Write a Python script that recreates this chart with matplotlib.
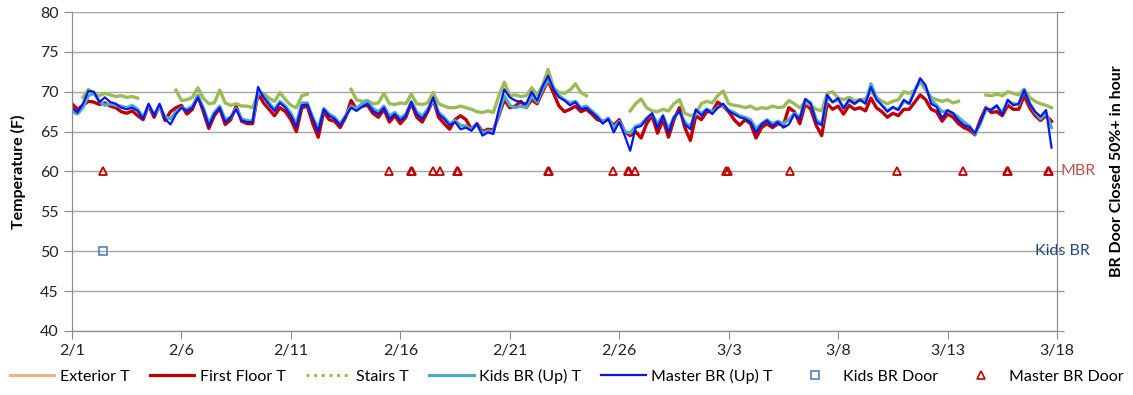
import numpy as np
import pandas as pd
import matplotlib
matplotlib.use("Agg")
import matplotlib.pyplot as plt
from matplotlib.lines import Line2D

nan = np.nan

# values every 6 hours starting 2/1 00:00
first_floor_t = [
    68.5, 67.8, 68.3, 68.8, 68.7, 68.4, 68.6, 68.2,
    68.0, 67.5, 67.3, 67.6, 67.0, 66.5, 68.3, 66.8,
    68.3, 66.4, 67.5, 68.0, 68.3, 67.2, 67.8, 69.5,
    67.5, 65.4, 67.0, 67.9, 65.9, 66.5, 68.2, 66.3,
    66.0, 66.0, 69.8, 68.6, 67.8, 67.0, 68.0, 67.5,
    66.5, 65.0, 68.0, 68.2, 66.0, 64.3, 67.5, 66.5,
    66.3, 65.5, 66.8, 68.9, 67.8, 68.2, 68.3, 67.3,
    66.8, 67.8, 66.2, 67.0, 66.0, 66.8, 68.6, 66.8,
    66.2, 67.5, 69.0, 66.8, 66.0, 65.3, 66.5, 67.0,
    66.5, 65.3, 66.0, 65.0, 65.3, 65.2, 67.0, 69.0,
    68.0, 68.2, 68.8, 68.0, 69.0, 68.5, 70.0, 71.4,
    69.8, 68.2, 67.5, 67.8, 68.2, 67.5, 67.8, 67.2,
    66.5, 66.3, 66.5, 65.8, 66.5, 65.0, 64.5, 65.0,
    64.2, 66.0, 67.0, 64.8, 66.5, 64.3, 66.5, 68.0,
    65.5, 63.9, 67.0, 66.5, 67.5, 67.5, 68.7, 68.2,
    67.5, 66.5, 65.8, 66.5, 66.0, 64.2, 65.5, 66.0,
    65.5, 66.0, 65.8, 68.0, 67.5, 66.0, 68.5, 67.8,
    65.8, 64.5, 68.5, 67.8, 68.2, 67.2, 68.3, 67.8,
    68.0, 67.6, 69.2, 68.0, 67.5, 66.8, 67.3, 67.0,
    67.8, 67.8, 68.7, 69.6, 69.0, 67.8, 67.5, 66.3,
    67.2, 66.8, 66.0, 65.5, 65.2, 64.6, 66.5, 68.0,
    67.4, 67.5, 67.0, 68.3, 67.8, 67.8, 69.5, 68.0,
    67.0, 66.4, 67.0, 66.3,
]

stairs_t = [
    nan, nan, 69.3, 70.3, 69.8, 69.5, 69.8, 69.6,
    69.4, 69.5, 69.3, 69.4, 69.2, nan, nan, nan,
    nan, nan, nan, 70.2, 68.9, 69.0, 69.3, 70.5,
    69.2, 68.5, 68.6, 70.2, 68.6, 68.3, 68.5, 68.2,
    68.2, 68.0, 69.8, 69.8, 69.2, 68.8, 69.9, 69.0,
    68.3, 68.0, 69.5, 69.7, nan, nan, nan, nan,
    nan, nan, nan, 70.3, 69.0, 68.8, 68.9, 68.5,
    68.6, 69.8, 68.5, 68.4, 68.6, 68.5, 69.7, 68.5,
    68.4, 68.6, 69.9, 68.5, 68.2, 68.0, 68.0, 68.2,
    68.0, 67.8, 67.5, 67.4, 67.6, 67.4, 69.5, 71.2,
    69.5, 69.6, 69.4, 69.5, 70.5, 69.6, 70.8, 72.8,
    70.5, 69.9, 69.8, 70.2, 71.0, 69.9, 69.5, nan,
    nan, nan, nan, nan, nan, nan, 67.6, 68.5,
    69.1, 68.0, 67.6, 67.5, 67.8, 67.6, 68.5, 69.0,
    67.3, 67.0, 67.2, 68.5, 68.8, 68.6, 69.5, 70.1,
    68.5, 68.3, 68.2, 68.0, 68.2, 67.8, 68.0, 67.9,
    68.2, 68.0, 68.1, 68.9, 68.5, 68.0, 68.7, 68.3,
    67.8, 67.6, 69.8, 70.0, 69.2, 69.0, 69.3, 68.9,
    69.0, 69.1, 70.0, 69.3, 68.8, 68.5, 68.8, 69.0,
    70.0, 69.8, 70.2, 71.2, 70.2, 69.3, 69.0, 68.8,
    69.0, 68.6, 68.8, nan, nan, nan, nan, 69.6,
    69.5, 69.7, 69.5, 70.0, 69.8, 69.6, 70.3, 69.3,
    68.8, 68.5, 68.3, 68.0,
]

kids_br_t = [
    67.5, 67.2, 68.0, 69.5, 69.8, 68.8, 68.3, 68.5,
    68.3, 68.2, 68.0, 68.3, 67.8, 66.8, 68.3, 67.2,
    68.0, 66.9, 66.6, 67.5, 68.0, 67.8, 68.2, 69.5,
    68.0, 66.0, 67.4, 68.2, 66.5, 66.8, 67.9, 66.6,
    66.4, 66.3, 70.0, 69.5, 68.6, 67.8, 68.8, 68.2,
    67.3, 66.0, 68.6, 68.6, 66.8, 65.4, 67.9, 67.2,
    66.8, 66.0, 67.0, 68.2, 67.9, 68.5, 68.8, 67.9,
    67.5, 68.2, 67.0, 67.4, 66.7, 67.2, 68.8, 67.5,
    66.9, 67.8, 69.0, 67.4, 66.8, 66.0, 66.4, 65.8,
    65.7, 65.3, 65.9, 64.8, 65.1, 65.0, 67.2, 69.5,
    68.3, 68.0, 68.2, 68.0, 69.5, 68.7, 70.3, 71.5,
    70.5, 69.5, 69.0, 68.6, 68.8, 68.0, 68.2, 67.6,
    67.0, 66.2, 66.7, 65.5, 66.3, 65.0, 64.8, 65.7,
    65.9, 66.7, 67.2, 66.0, 67.0, 65.3, 66.8, 67.5,
    66.2, 65.6, 67.6, 67.3, 67.8, 67.5, 68.0, 68.3,
    67.7, 67.4, 67.0, 66.8, 66.5, 65.4, 66.0, 66.5,
    66.0, 66.3, 66.0, 66.5, 67.3, 66.8, 69.0, 68.6,
    66.5, 65.9, 69.3, 68.7, 69.0, 68.0, 68.9, 68.5,
    69.0, 68.6, 71.0, 69.3, 68.3, 67.6, 68.0, 67.8,
    68.8, 68.5, 70.2, 71.5, 70.5, 69.0, 68.3, 67.5,
    67.6, 67.3, 66.8, 66.2, 65.7, 64.7, 66.0, 67.8,
    67.8, 68.2, 67.4, 68.8, 68.5, 68.4, 70.3, 68.6,
    67.4, 66.6, 67.3, 65.5,
]

master_br_t = [
    68.0, 67.4, 68.5, 70.1, 70.0, 68.7, 69.3, 68.7,
    68.5, 68.0, 67.8, 68.0, 67.6, 66.6, 68.5, 67.0,
    68.5, 66.6, 65.9, 67.2, 68.0, 67.6, 68.0, 69.3,
    67.8, 65.7, 67.2, 68.0, 66.2, 66.8, 67.8, 66.4,
    66.2, 66.2, 70.6, 69.3, 68.4, 67.6, 68.6, 68.0,
    67.0, 65.6, 68.3, 68.4, 66.6, 65.0, 67.8, 67.0,
    66.6, 65.8, 66.9, 68.0, 67.6, 68.1, 68.5, 67.6,
    67.2, 68.0, 66.6, 67.2, 66.4, 67.0, 68.7, 67.2,
    66.6, 67.6, 69.3, 67.2, 66.6, 65.8, 66.2, 65.3,
    65.5, 65.1, 66.0, 64.5, 64.9, 64.7, 67.8, 70.3,
    69.3, 68.9, 68.7, 68.5, 70.0, 68.9, 70.7, 72.0,
    70.3, 69.3, 68.9, 68.3, 68.7, 67.8, 68.0, 67.4,
    66.8, 66.0, 66.6, 64.9, 66.2, 64.5, 62.6, 65.5,
    65.7, 66.6, 67.3, 65.5, 67.0, 64.9, 66.8, 67.6,
    65.9, 65.3, 67.8, 67.0, 67.8, 67.2, 68.0, 68.5,
    67.6, 67.2, 66.8, 66.6, 66.2, 64.9, 65.9, 66.4,
    65.7, 66.2, 65.5, 65.9, 67.2, 66.6, 69.1, 68.5,
    66.2, 65.8, 69.6, 68.7, 69.2, 67.9, 69.0, 68.5,
    69.0, 68.5, 70.6, 69.0, 68.3, 67.5, 68.1, 67.7,
    69.0, 68.5, 70.0, 71.7, 70.8, 68.5, 68.1, 66.7,
    67.7, 67.3, 66.4, 65.8, 65.6, 64.8, 66.2, 67.9,
    67.7, 68.3, 67.1, 69.0, 68.3, 68.5, 70.2, 68.5,
    67.5, 66.9, 67.7, 63.0,
]

# exterior series sits off the 40-80 scale, only shows in legend
exterior_t = []

# door closed flags (days after 2/1 00:00)
kids_door_days = [1.42]
kids_door_vals = [50]
mbr_door_days = [1.42, 14.5, 15.5, 15.55, 16.5, 16.8, 17.6, 17.65, 21.75, 21.8,
                 24.7, 25.4, 25.45, 25.7, 29.9, 29.95, 32.8, 37.7, 40.7, 42.7,
                 42.75, 44.6, 44.65]
mbr_door_vals = [60] * len(mbr_door_days)

tick_labels = ['2/1', '2/6', '2/11', '2/16', '2/21', '2/26', '3/3', '3/8', '3/13', '3/18']

plt.rcParams['font.family'] = ['Lato', 'DejaVu Sans']
plt.rcParams['font.size'] = 11.5

start = pd.Timestamp('2021-02-01')
times = pd.date_range(start, periods=len(master_br_t), freq='6h')
kids_times = start + pd.to_timedelta(kids_door_days, unit='D')
mbr_times = start + pd.to_timedelta(mbr_door_days, unit='D')

fig = plt.figure(figsize=(11.33, 3.95), dpi=100)
ax = fig.add_axes([72 / 1133, 1 - 331 / 395, 985 / 1133, 319 / 395])

grey = '#8c8c8c'
ax.plot(times[:len(exterior_t)], exterior_t, color='#f4b183', lw=2.2)
ax.plot(times, first_floor_t, color='#c00000', lw=2.4)
ax.plot(times, stairs_t, color='#9bbb59', lw=2.4)
ax.plot(times, kids_br_t, color='#4bacc6', lw=2.3)
ax.plot(times, master_br_t, color='#0a14f0', lw=1.6)
ax.plot(kids_times, kids_door_vals, ls='none', marker='s', ms=6, mfc='none',
        mec='#4f81bd', mew=1.2)
ax.plot(mbr_times, mbr_door_vals, ls='none', marker='^', ms=6, mfc='none',
        mec='#c00000', mew=1.3)

ax.set_xlim(start, start + pd.Timedelta(days=45))
ax.set_ylim(40, 80)
ax.set_yticks(range(40, 81, 5))
ax.set_xticks([start + pd.Timedelta(days=5 * i) for i in range(len(tick_labels))])
ax.set_xticklabels(tick_labels)
ax.yaxis.grid(True, color='#a6a6a6', lw=1)
ax.set_axisbelow(True)
ax.spines['top'].set_visible(False)
for s in ['left', 'bottom', 'right']:
    ax.spines[s].set_color(grey)
ax.tick_params(direction='out', length=6, color=grey, labelcolor='#222222')
ax.set_ylabel('Temperature (F)', fontweight='bold', labelpad=10)

ax2 = ax.twinx()
ax2.set_ylim(40, 80)
ax2.set_yticks(range(40, 81, 5))
ax2.set_yticklabels([])
ax2.tick_params(direction='out', length=5, color=grey)
ax2.spines['top'].set_visible(False)
for s in ['left', 'bottom', 'right']:
    ax2.spines[s].set_color(grey)
ax2.set_ylabel('BR Door Closed 50%+ in hour', fontweight='bold', labelpad=30)

ax.text(start + pd.Timedelta(days=45.18), 60, 'MBR', color='#c0504d', va='center', ha='left')
ax.text(start + pd.Timedelta(days=44.0), 50, 'Kids BR', color='#1f497d', va='center', ha='left')

handles = [
    Line2D([], [], color='#f4b183', lw=2.2),
    Line2D([], [], color='#c00000', lw=2.3),
    Line2D([], [], color='#9bbb59', lw=2.2, ls=(0, (1, 1.5))),
    Line2D([], [], color='#4bacc6', lw=2.3),
    Line2D([], [], color='#0a14f0', lw=1.6),
    Line2D([], [], ls='none', marker='s', ms=5.5, mfc='none', mec='#4f81bd', mew=1.2),
    Line2D([], [], ls='none', marker='^', ms=5.5, mfc='none', mec='#c00000', mew=1.2),
]
labels = ['Exterior T', 'First Floor T', 'Stairs T', 'Kids BR (Up) T',
          'Master BR (Up) T', 'Kids BR Door', 'Master BR Door']
fig.legend(handles, labels, loc='lower center', bbox_to_anchor=(0.5, 0.0), ncol=7,
           frameon=False, handlelength=2.8, handletextpad=0.35, columnspacing=1.25,
           borderpad=0.2)

fig.savefig('out.png', dpi=100)
